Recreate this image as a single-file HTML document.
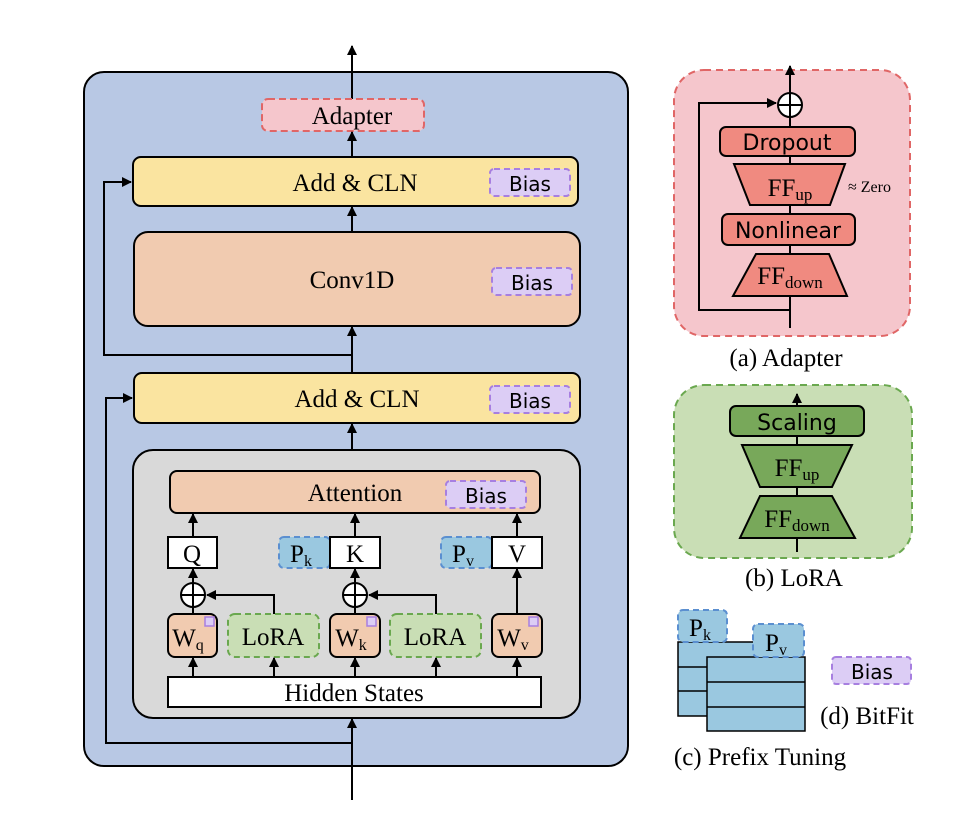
<!DOCTYPE html>
<html><head><meta charset="utf-8"><style>html,body{margin:0;padding:0;background:#fff}svg{display:block}</style></head><body>
<svg width="964" height="814" viewBox="0 0 964 814" xmlns="http://www.w3.org/2000/svg">
<defs>
<marker id="a" viewBox="0 0 10 10" refX="9" refY="5" markerWidth="5" markerHeight="5" orient="auto"><path d="M0,0L10,5L0,10z" fill="#000"/></marker>
</defs>
<style>
.s{font-family:"Liberation Serif",serif;font-size:25px;text-anchor:middle;fill:#000}
.b{font-family:"DejaVu Sans","Liberation Sans",sans-serif;font-size:20px;text-anchor:middle;fill:#000}
.p{font-family:"DejaVu Sans","Liberation Sans",sans-serif;font-size:22px;text-anchor:middle;fill:#000}
.ln{stroke:#000;stroke-width:2;fill:none}
.bias{fill:#dccdf5;stroke:#a77fe0;stroke-width:2;stroke-dasharray:6 4}
</style>
<!-- main -->
<rect x="84" y="72" width="544" height="694" rx="20" fill="#b8c8e4" stroke="#000" stroke-width="2"/>
<line x1="352" y1="99" x2="352" y2="46" class="ln" marker-end="url(#a)"/>
<rect x="262" y="99" width="162" height="32" rx="6" fill="#f5c6cc" stroke="#e06666" stroke-width="2" stroke-dasharray="7 4"/>
<text x="352" y="124" class="s">Adapter</text>
<line x1="352" y1="157" x2="352" y2="132" class="ln" marker-end="url(#a)"/>
<rect x="133" y="157" width="445" height="49" rx="8" fill="#fae4a0" stroke="#000" stroke-width="2"/>
<text x="355" y="191" class="s">Add &amp; CLN</text>
<rect x="490" y="169" width="80" height="27" rx="4" class="bias"/><text x="530" y="191" class="b">Bias</text>
<line x1="352" y1="232" x2="352" y2="207" class="ln" marker-end="url(#a)"/>
<rect x="134" y="232" width="446" height="94" rx="14" fill="#f1cbb0" stroke="#000" stroke-width="2"/>
<text x="352" y="288" class="s">Conv1D</text>
<rect x="492" y="268" width="80" height="27" rx="4" class="bias"/><text x="532" y="290" class="b">Bias</text>
<polyline points="352,355 104,355 104,182 131,182" class="ln" marker-end="url(#a)"/>
<line x1="352" y1="373" x2="352" y2="327" class="ln" marker-end="url(#a)"/>
<rect x="134" y="373" width="446" height="50" rx="8" fill="#fae4a0" stroke="#000" stroke-width="2"/>
<text x="357" y="407" class="s">Add &amp; CLN</text>
<rect x="490" y="386" width="80" height="27" rx="4" class="bias"/><text x="530" y="408" class="b">Bias</text>
<line x1="352" y1="450" x2="352" y2="424" class="ln" marker-end="url(#a)"/>
<polyline points="352,743 106,743 106,398 132,398" class="ln" marker-end="url(#a)"/>
<line x1="352" y1="800" x2="352" y2="719" class="ln" marker-end="url(#a)"/>
<!-- gray -->
<rect x="133" y="450" width="447" height="268" rx="20" fill="#d9d9d9" stroke="#000" stroke-width="2"/>
<rect x="170" y="471" width="370" height="42" rx="7" fill="#f1cbb0" stroke="#000" stroke-width="2"/>
<text x="355" y="501" class="s">Attention</text>
<rect x="446" y="481" width="80" height="27" rx="4" class="bias"/><text x="486" y="503" class="b">Bias</text>
<line x1="193" y1="537" x2="193" y2="514" class="ln" marker-end="url(#a)"/>
<line x1="355" y1="537" x2="355" y2="514" class="ln" marker-end="url(#a)"/>
<line x1="517" y1="537" x2="517" y2="514" class="ln" marker-end="url(#a)"/>
<rect x="168" y="537" width="49" height="31" fill="#fff" stroke="#000" stroke-width="2"/><text x="192" y="562" class="s">Q</text>
<rect x="279" y="537" width="51" height="31" rx="5" fill="#9ac8e0" stroke="#5b8fd0" stroke-width="2" stroke-dasharray="6 4"/><text x="301" y="562" class="s">P<tspan font-size="16" dy="4">k</tspan></text>
<rect x="330" y="537" width="50" height="31" fill="#fff" stroke="#000" stroke-width="2"/><text x="355" y="562" class="s">K</text>
<rect x="441" y="537" width="51" height="31" rx="5" fill="#9ac8e0" stroke="#5b8fd0" stroke-width="2" stroke-dasharray="6 4"/><text x="463" y="562" class="s">P<tspan font-size="16" dy="4">v</tspan></text>
<rect x="492" y="537" width="50" height="31" fill="#fff" stroke="#000" stroke-width="2"/><text x="517" y="562" class="s">V</text>
<!-- oplus -->
<line x1="193" y1="583" x2="193" y2="569" class="ln" marker-end="url(#a)"/>
<line x1="355" y1="583" x2="355" y2="569" class="ln" marker-end="url(#a)"/>
<line x1="517" y1="614" x2="517" y2="569" class="ln" marker-end="url(#a)"/>
<g class="ln"><circle cx="193" cy="595" r="12" fill="#fff"/><line x1="181" y1="595" x2="205" y2="595"/><line x1="193" y1="583" x2="193" y2="607"/></g>
<g class="ln"><circle cx="355" cy="595" r="12" fill="#fff"/><line x1="343" y1="595" x2="367" y2="595"/><line x1="355" y1="583" x2="355" y2="607"/></g>
<line x1="193" y1="614" x2="193" y2="607" class="ln"/>
<line x1="355" y1="614" x2="355" y2="607" class="ln"/>
<polyline points="274,614 274,595 207,595" class="ln" marker-end="url(#a)"/>
<polyline points="436,614 436,595 369,595" class="ln" marker-end="url(#a)"/>
<!-- W & LoRA -->
<rect x="168" y="614" width="49" height="43" rx="7" fill="#f1cbb0" stroke="#000" stroke-width="2"/><text x="188" y="646" class="s">W<tspan font-size="16" dy="4">q</tspan></text>
<rect x="205" y="617" width="9" height="9" fill="#dccdf5" stroke="#a77fe0" stroke-width="1.5"/>
<rect x="228" y="614" width="91" height="43" rx="7" fill="#c9deb5" stroke="#6aa84f" stroke-width="2" stroke-dasharray="6 4"/><text x="273" y="645" class="s">LoRA</text>
<rect x="330" y="614" width="50" height="43" rx="7" fill="#f1cbb0" stroke="#000" stroke-width="2"/><text x="351" y="646" class="s">W<tspan font-size="16" dy="4">k</tspan></text>
<rect x="367" y="617" width="9" height="9" fill="#dccdf5" stroke="#a77fe0" stroke-width="1.5"/>
<rect x="390" y="614" width="91" height="43" rx="7" fill="#c9deb5" stroke="#6aa84f" stroke-width="2" stroke-dasharray="6 4"/><text x="435" y="645" class="s">LoRA</text>
<rect x="492" y="614" width="50" height="43" rx="7" fill="#f1cbb0" stroke="#000" stroke-width="2"/><text x="513" y="646" class="s">W<tspan font-size="16" dy="4">v</tspan></text>
<rect x="529" y="617" width="9" height="9" fill="#dccdf5" stroke="#a77fe0" stroke-width="1.5"/>
<g class="ln">
<line x1="193" y1="677" x2="193" y2="658" marker-end="url(#a)"/>
<line x1="274" y1="677" x2="274" y2="658" marker-end="url(#a)"/>
<line x1="355" y1="677" x2="355" y2="658" marker-end="url(#a)"/>
<line x1="436" y1="677" x2="436" y2="658" marker-end="url(#a)"/>
<line x1="517" y1="677" x2="517" y2="658" marker-end="url(#a)"/>
</g>
<rect x="168" y="677" width="373" height="30" fill="#fff" stroke="#000" stroke-width="2"/>
<text x="354" y="701" class="s">Hidden States</text>
<!-- Adapter panel -->
<rect x="674" y="70" width="236" height="266" rx="30" fill="#f5c6cc" stroke="#e06666" stroke-width="2" stroke-dasharray="7 5"/>
<line x1="790" y1="328" x2="790" y2="117" class="ln"/>
<polyline points="790,310 699,310 699,103 776,103" class="ln" marker-end="url(#a)"/>
<line x1="790" y1="93" x2="790" y2="66" class="ln" marker-end="url(#a)"/>
<g class="ln"><circle cx="790" cy="105" r="12" fill="#fff"/><line x1="778" y1="105" x2="802" y2="105"/><line x1="790" y1="93" x2="790" y2="117"/></g>
<rect x="720" y="127" width="135" height="29" rx="6" fill="#f08a80" stroke="#000" stroke-width="2"/>
<text x="787" y="150" class="p">Dropout</text>
<polygon points="734,164 845,164 830,205 750,205" fill="#f08a80" stroke="#000" stroke-width="2"/>
<text x="790" y="196" class="s">FF<tspan font-size="17" dy="4">up</tspan></text>
<text x="848" y="192" font-family="Liberation Serif,serif" font-size="16">≈ Zero</text>
<rect x="722" y="214" width="133" height="31" rx="6" fill="#f08a80" stroke="#000" stroke-width="2"/>
<text x="788" y="238" class="p">Nonlinear</text>
<polygon points="756,254 829,254 847,296 733,296" fill="#f08a80" stroke="#000" stroke-width="2"/>
<text x="790" y="284" class="s">FF<tspan font-size="17" dy="4">down</tspan></text>
<text x="786" y="366" class="s">(a) Adapter</text>
<!-- LoRA panel -->
<rect x="674" y="385" width="238" height="173" rx="30" fill="#c9deb5" stroke="#6aa84f" stroke-width="2" stroke-dasharray="7 5"/>
<line x1="797" y1="552" x2="797" y2="394" class="ln" marker-end="url(#a)"/>
<rect x="730" y="406" width="134" height="30" rx="6" fill="#78a85a" stroke="#000" stroke-width="2"/>
<text x="797" y="430" class="p">Scaling</text>
<polygon points="742,445 852,445 832,487 760,487" fill="#78a85a" stroke="#000" stroke-width="2"/>
<text x="797" y="476" class="s">FF<tspan font-size="17" dy="4">up</tspan></text>
<polygon points="760,496 832,496 855,538 740,538" fill="#78a85a" stroke="#000" stroke-width="2"/>
<text x="797" y="527" class="s">FF<tspan font-size="17" dy="4">down</tspan></text>
<text x="794" y="586" class="s">(b) LoRA</text>
<!-- prefix -->
<rect x="678" y="642" width="82" height="74" fill="#9ac8e0" stroke="#000" stroke-width="1.5"/>
<line x1="678" y1="667" x2="760" y2="667" stroke="#000" stroke-width="1.5"/>
<line x1="678" y1="691" x2="760" y2="691" stroke="#000" stroke-width="1.5"/>
<rect x="678" y="610" width="49" height="32" rx="5" fill="#9ac8e0" stroke="#5b8fd0" stroke-width="2" stroke-dasharray="6 4"/>
<text x="700" y="636" class="s">P<tspan font-size="16" dy="4">k</tspan></text>
<rect x="707" y="657" width="98" height="74" fill="#9ac8e0" stroke="#000" stroke-width="1.5"/>
<line x1="707" y1="682" x2="805" y2="682" stroke="#000" stroke-width="1.5"/>
<line x1="707" y1="707" x2="805" y2="707" stroke="#000" stroke-width="1.5"/>
<rect x="753" y="624" width="51" height="33" rx="5" fill="#9ac8e0" stroke="#5b8fd0" stroke-width="2" stroke-dasharray="6 4"/>
<text x="776" y="651" class="s">P<tspan font-size="16" dy="4">v</tspan></text>
<text x="760" y="765" class="s">(c) Prefix Tuning</text>
<rect x="832" y="657" width="79" height="27" rx="4" class="bias"/><text x="872" y="679" class="b">Bias</text>
<text x="867" y="724" class="s">(d) BitFit</text>
</svg>
</body></html>
